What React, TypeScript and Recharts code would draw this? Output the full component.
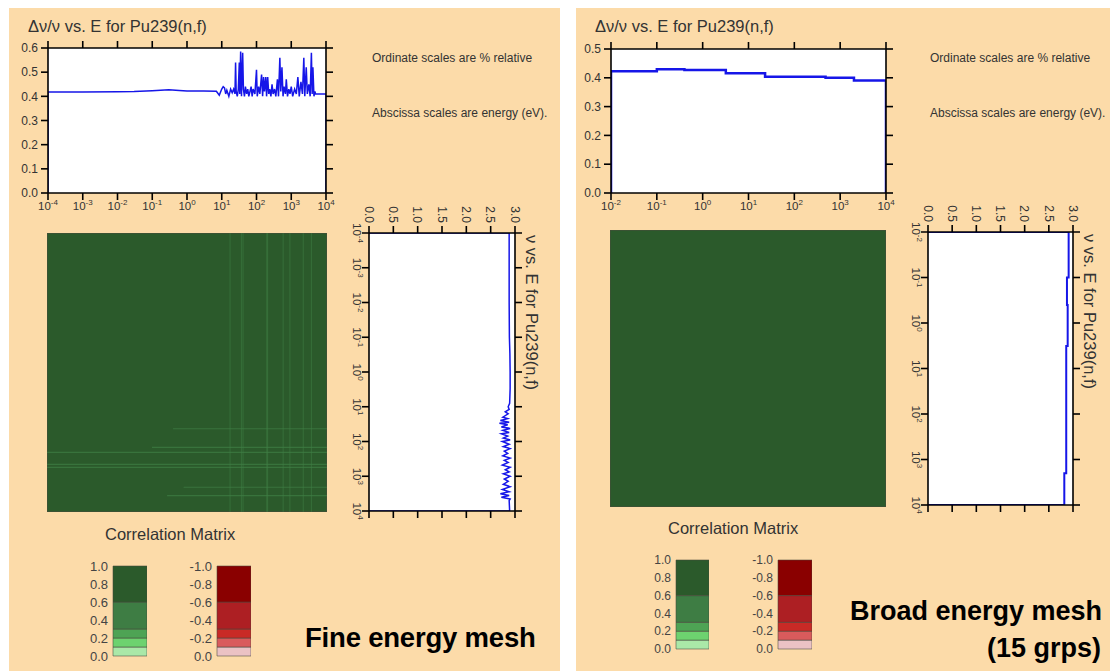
import React from "react";
import {
  LineChart,
  Line,
  XAxis,
  YAxis,
  CartesianGrid,
  ComposedChart,
  ReferenceArea,
  ReferenceLine,
  BarChart,
  Bar,
} from "recharts";

const FONT = "'Liberation Sans', Arial, Helvetica, sans-serif";
const PEACH = "#fcdba9";
const BLUE = "#1616e8";
const INK = "#333";

// --- fine mesh: relative uncertainty of nu (%) vs energy (eV)
const FINE_DNU_E = [
  1e-4, 1e-3, 1e-2, 0.03, 0.1, 0.3, 0.6, 1, 3, 7, 8.5, 10, 11, 12, 13, 14, 16, 18, 20, 22, 24, 25, 26, 28, 30,
  32, 33, 35, 37, 40, 42, 45, 48, 52, 56, 60, 65, 70, 75, 80, 90, 100, 105, 115, 125, 140, 150, 160, 170, 185,
  195, 210, 225, 240, 260, 280, 300, 330, 360, 400, 430, 470, 500, 540, 580, 620, 680, 720, 780, 850, 920, 1000,
  1100, 1250, 1400, 1550, 1700, 1900, 2100, 2300, 2450, 2700, 2900, 3200, 3500, 3800, 4000, 4200, 4500, 4800,
  5000, 1e4,
];
const FINE_DNU = [
  0.418, 0.418, 0.419, 0.42, 0.423, 0.427, 0.424, 0.422, 0.422, 0.421, 0.405, 0.43, 0.44, 0.435, 0.41, 0.425,
  0.4, 0.43, 0.415, 0.43, 0.41, 0.54, 0.42, 0.4, 0.43, 0.54, 0.41, 0.585, 0.4, 0.58, 0.43, 0.4, 0.44, 0.41, 0.43,
  0.4, 0.42, 0.44, 0.4, 0.43, 0.41, 0.51, 0.4, 0.44, 0.41, 0.49, 0.4, 0.48, 0.42, 0.48, 0.4, 0.48, 0.41, 0.43,
  0.4, 0.45, 0.41, 0.43, 0.4, 0.47, 0.4, 0.56, 0.42, 0.52, 0.4, 0.44, 0.41, 0.47, 0.4, 0.43, 0.41, 0.44, 0.4,
  0.43, 0.41, 0.48, 0.4, 0.46, 0.41, 0.56, 0.4, 0.52, 0.41, 0.45, 0.4, 0.58, 0.41, 0.52, 0.4, 0.42, 0.41, 0.41,
];

// --- fine mesh: nu vs energy
const FINE_NU_E = [
  1e-4, 1e-3, 1e-2, 0.1, 0.3, 1, 3, 8, 10, 12, 14, 16, 20, 22, 25, 28, 30, 33, 38, 42, 48, 55, 60, 70, 80, 90,
  100, 120, 140, 160, 190, 220, 260, 300, 350, 400, 480, 550, 650, 750, 850, 1000, 1200, 1400, 1700, 2000, 2400,
  2800, 3200, 3600, 4000, 4500, 5000, 1e4,
];
const FINE_NU = [
  2.88, 2.88, 2.88, 2.885, 2.895, 2.9, 2.9, 2.89, 2.86, 2.88, 2.8, 2.86, 2.75, 2.85, 2.7, 2.88, 2.68, 2.85, 2.72,
  2.9, 2.75, 2.88, 2.72, 2.85, 2.76, 2.9, 2.74, 2.88, 2.76, 2.9, 2.78, 2.85, 2.75, 2.9, 2.78, 2.86, 2.74, 2.9,
  2.8, 2.88, 2.76, 2.9, 2.78, 2.86, 2.76, 2.9, 2.74, 2.88, 2.7, 2.88, 2.72, 2.9, 2.88, 2.89,
];

// --- broad mesh (group boundaries and group values)
const BROAD_BOUNDS = [1e-2, 0.1, 0.4, 3.2, 23, 480, 2000, 1e4];
const BROAD_DNU = [0.423, 0.43, 0.427, 0.416, 0.404, 0.4, 0.391];
const BROAD_NU = [2.91, 2.875, 2.89, 2.86, 2.86, 2.86, 2.82];

// --- ticks
const FINE_E_TICKS = [1e-4, 1e-3, 1e-2, 1e-1, 1, 10, 100, 1e3, 1e4];
const BROAD_E_TICKS = [1e-2, 1e-1, 1, 10, 100, 1e3, 1e4];
const FINE_DNU_TICKS = [0, 0.1, 0.2, 0.3, 0.4, 0.5, 0.6];
const BROAD_DNU_TICKS = [0, 0.1, 0.2, 0.3, 0.4, 0.5];
const NU_TICKS = [0, 0.5, 1, 1.5, 2, 2.5, 3];
const LEGEND_TICKS = [0, 0.2, 0.4, 0.6, 0.8, 1];

// --- correlation bins and colours (bottom to top)
const CORR_EDGES = [0, 0.1, 0.2, 0.3, 0.6, 1.0];
const GREEN_BINS = ["#aae8a8", "#6dd26f", "#4ea354", "#3e7d44", "#2b5a2b"];
const RED_BINS = ["#ebc2c4", "#d95b5c", "#c92a26", "#ad1f23", "#8a0000"];

// --- fine-mesh correlation matrix: weaker-correlation stripes
const MATRIX_FINE_CORR = 0.95;
const MATRIX_V_E = [17, 36, 40, 190, 200, 560, 870, 2100, 3600];
const MATRIX_V_CORR = [0.5, 0.45, 0.45, 0.5, 0.45, 0.5, 0.55, 0.45, 0.45];
const MATRIX_H_E = [41, 140, 195, 430, 525, 1950, 3400];
const MATRIX_H_FROM = [0.4, 0.1, 1e-4, 1e-4, 1e-4, 0.8, 0.27];
const MATRIX_H_CORR = [0.35, 0.5, 0.45, 0.55, 0.45, 0.45, 0.4];
const MATRIX_BROAD_CORR = 0.97;

const corrColor = (c: number, bins: string[]) => {
  for (let i = 1; i < CORR_EDGES.length; i++) if (c <= CORR_EDGES[i]) return bins[i - 1];
  return bins[bins.length - 1];
};

const withEnds = (es: number[], vs: number[]) => [
  { e: es[0], v: 0 },
  ...es.map((e, i) => ({ e, v: vs[i] })),
  { e: es[es.length - 1], v: 0 },
];

const groupSteps = (bounds: number[], vals: number[]) => [
  { e: bounds[0], v: 0 },
  ...vals.map((v, i) => ({ e: bounds[i], v })),
  { e: bounds[bounds.length - 1], v: vals[vals.length - 1] },
  { e: bounds[bounds.length - 1], v: 0 },
];

const AXIS_LINE = { stroke: "#000", strokeWidth: 1.6 };

function PowTick(props: any) {
  const { x, y, payload } = props;
  const exp = Math.round(Math.log10(payload.value));
  return (
    <text x={x} y={y} dy={8.5} textAnchor="middle" fontSize={11.5} fill={INK} fontFamily={FONT}>
      10
      <tspan dy={-5} fontSize={8}>
        {exp}
      </tspan>
    </text>
  );
}

const NoTick = () => <g />;

interface ProfileProps {
  width: number;
  height: number;
  margin: { top: number; right: number; bottom: number; left: number };
  rows: { e: number; v: number }[];
  xTicks: number[];
  yTicks: number[];
  lineType: "linear" | "stepAfter";
  strokeWidth: number;
}

function ProfileChart({ width, height, margin, rows, xTicks, yTicks, lineType, strokeWidth }: ProfileProps) {
  const xDomain = [xTicks[0], xTicks[xTicks.length - 1]];
  const yDomain = [yTicks[0], yTicks[yTicks.length - 1]];
  return (
    <LineChart width={width} height={height} data={rows} margin={margin}>
      <CartesianGrid xAxisId="b" yAxisId="l" horizontal={false} vertical={false} fill="#fff" fillOpacity={1} />
      <XAxis
        xAxisId="b"
        dataKey="e"
        type="number"
        scale="log"
        domain={xDomain}
        ticks={xTicks}
        allowDataOverflow
        interval={0}
        height={25}
        tickSize={7}
        tickMargin={1}
        tick={<PowTick />}
        axisLine={AXIS_LINE}
        tickLine={AXIS_LINE}
      />
      <XAxis
        xAxisId="t"
        orientation="top"
        dataKey="e"
        type="number"
        scale="log"
        domain={xDomain}
        ticks={xTicks}
        allowDataOverflow
        interval={0}
        height={10}
        tickSize={7}
        tick={NoTick}
        axisLine={AXIS_LINE}
        tickLine={AXIS_LINE}
      />
      <YAxis
        yAxisId="l"
        type="number"
        domain={yDomain}
        ticks={yTicks}
        allowDataOverflow
        interval={0}
        width={30}
        tickSize={7}
        tickMargin={3}
        tickFormatter={(v: number) => v.toFixed(1)}
        tick={{ fontSize: 12, fill: INK, fontFamily: FONT }}
        axisLine={AXIS_LINE}
        tickLine={AXIS_LINE}
      />
      <YAxis
        yAxisId="r"
        orientation="right"
        type="number"
        domain={yDomain}
        ticks={yTicks}
        allowDataOverflow
        interval={0}
        width={10}
        tickSize={7}
        tick={NoTick}
        axisLine={AXIS_LINE}
        tickLine={AXIS_LINE}
      />
      <Line
        xAxisId="b"
        yAxisId="l"
        dataKey="v"
        type={lineType}
        stroke={BLUE}
        strokeWidth={strokeWidth}
        dot={false}
        isAnimationActive={false}
      />
    </LineChart>
  );
}

interface MatrixProps {
  width: number;
  height: number;
  eTicks: number[];
  base: number;
  vE: number[];
  vCorr: number[];
  hE: number[];
  hFrom: number[];
  hCorr: number[];
}

function MatrixChart({ width, height, eTicks, base, vE, vCorr, hE, hFrom, hCorr }: MatrixProps) {
  const lo = eTicks[0];
  const hi = eTicks[eTicks.length - 1];
  return (
    <ComposedChart width={width} height={height} margin={{ top: 0, right: 0, bottom: 0, left: 0 }} data={[{ e: lo }]}>
      <XAxis dataKey="e" type="number" scale="log" domain={[lo, hi]} allowDataOverflow hide />
      <YAxis type="number" scale="log" domain={[lo, hi]} allowDataOverflow reversed hide />
      <ReferenceArea
        x1={lo}
        x2={hi}
        y1={lo}
        y2={hi}
        fill={corrColor(base, GREEN_BINS)}
        fillOpacity={1}
        stroke="#4b4b3c"
        strokeWidth={1}
      />
      {vE.map((e, i) => (
        <ReferenceLine
          key={`v${i}`}
          x={e}
          stroke={corrColor(vCorr[i], GREEN_BINS)}
          strokeWidth={1.2}
          strokeOpacity={0.5}
        />
      ))}
      {hE.map((e, i) => (
        <ReferenceLine
          key={`h${i}`}
          segment={[
            { x: hFrom[i], y: e },
            { x: hi, y: e },
          ]}
          stroke={corrColor(hCorr[i], GREEN_BINS)}
          strokeWidth={1.2}
          strokeOpacity={0.7}
        />
      ))}
    </ComposedChart>
  );
}

function CorrLegend({
  bins,
  negative,
  barWidth,
  barHeight,
  fontSize,
}: {
  bins: string[];
  negative: boolean;
  barWidth: number;
  barHeight: number;
  fontSize: number;
}) {
  const row: Record<string, number | string> = { name: "c" };
  bins.forEach((_, i) => {
    row[`s${i}`] = +(CORR_EDGES[i + 1] - CORR_EDGES[i]).toFixed(2);
  });
  return (
    <BarChart
      width={32 + barWidth}
      height={barHeight + 20}
      data={[row]}
      margin={{ top: 10, right: 0, bottom: 10, left: 0 }}
      barCategoryGap={0}
    >
      <XAxis dataKey="name" hide />
      <YAxis
        type="number"
        domain={[0, 1]}
        ticks={LEGEND_TICKS}
        interval={0}
        width={32}
        axisLine={false}
        tickLine={false}
        tickSize={0}
        tickMargin={5}
        tick={{ fontSize, fill: "#444", fontFamily: FONT }}
        tickFormatter={(v: number) => (negative && v !== 0 ? (-v).toFixed(1) : v.toFixed(1))}
      />
      {bins.map((c, i) => (
        <Bar
          key={i}
          dataKey={`s${i}`}
          stackId="a"
          fill={c}
          stroke="rgba(70,70,60,0.55)"
          strokeWidth={1}
          isAnimationActive={false}
        />
      ))}
    </BarChart>
  );
}

function Rotated({
  left,
  top,
  width,
  height,
  title,
  children,
}: {
  left: number;
  top: number;
  width: number;
  height: number;
  title: string;
  children: React.ReactNode;
}) {
  return (
    <div
      style={{
        position: "absolute",
        left,
        top,
        width,
        height,
        transform: "rotate(90deg)",
        transformOrigin: "0 0",
      }}
    >
      {children}
      <svg width={width} height={height} style={{ position: "absolute", left: 0, top: 0, pointerEvents: "none" }}>
        <text x={37} y={21} fontSize={16.5} fill={INK} fontFamily={FONT}>
          {title}
        </text>
      </svg>
    </div>
  );
}

const Abs = ({ left, top, children }: { left: number; top: number; children: React.ReactNode }) => (
  <div style={{ position: "absolute", left, top }}>{children}</div>
);

export default function App() {
  const fineDnu = withEnds(FINE_DNU_E, FINE_DNU);
  const fineNu = withEnds(FINE_NU_E, FINE_NU);
  const broadDnu = groupSteps(BROAD_BOUNDS, BROAD_DNU);
  const broadNu = groupSteps(BROAD_BOUNDS, BROAD_NU);

  return (
    <div
      style={{
        position: "absolute",
        left: 0,
        top: 0,
        width: 1110,
        height: 671,
        background: "#fff",
        overflow: "hidden",
        fontFamily: FONT,
      }}
    >
      <div style={{ position: "absolute", left: 9, top: 8, width: 551, height: 663, background: PEACH }} />
      <div style={{ position: "absolute", left: 576, top: 8, width: 534, height: 663, background: PEACH }} />

      {/* fine mesh */}
      <Abs left={0} top={0}>
        <ProfileChart
          width={360}
          height={230}
          margin={{ top: 38, right: 24, bottom: 12, left: 18 }}
          rows={fineDnu}
          xTicks={FINE_E_TICKS}
          yTicks={FINE_DNU_TICKS}
          lineType="linear"
          strokeWidth={1.5}
        />
      </Abs>
      <Abs left={47} top={233}>
        <MatrixChart
          width={280}
          height={279}
          eTicks={FINE_E_TICKS}
          base={MATRIX_FINE_CORR}
          vE={MATRIX_V_E}
          vCorr={MATRIX_V_CORR}
          hE={MATRIX_H_E}
          hFrom={MATRIX_H_FROM}
          hCorr={MATRIX_H_CORR}
        />
      </Abs>
      <Rotated left={547} top={198} width={333} height={208} title="ν vs. E for Pu239(n,f)">
        <ProfileChart
          width={333}
          height={208}
          margin={{ top: 22, right: 10, bottom: 5, left: 5 }}
          rows={fineNu}
          xTicks={FINE_E_TICKS}
          yTicks={NU_TICKS}
          lineType="linear"
          strokeWidth={1.5}
        />
      </Rotated>
      <Abs left={81} top={556}>
        <CorrLegend bins={GREEN_BINS} negative={false} barWidth={34} barHeight={90} fontSize={13} />
      </Abs>
      <Abs left={185} top={556}>
        <CorrLegend bins={RED_BINS} negative barWidth={34} barHeight={90} fontSize={13} />
      </Abs>

      {/* broad mesh */}
      <Abs left={570} top={0}>
        <ProfileChart
          width={360}
          height={230}
          margin={{ top: 39, right: 34, bottom: 12, left: 11 }}
          rows={broadDnu}
          xTicks={BROAD_E_TICKS}
          yTicks={BROAD_DNU_TICKS}
          lineType="stepAfter"
          strokeWidth={2.5}
        />
      </Abs>
      <Abs left={610} top={230}>
        <MatrixChart
          width={276}
          height={277}
          eTicks={BROAD_E_TICKS}
          base={MATRIX_BROAD_CORR}
          vE={[]}
          vCorr={[]}
          hE={[]}
          hFrom={[]}
          hCorr={[]}
        />
      </Abs>
      <Rotated left={1105} top={197} width={328} height={207} title="ν vs. E for Pu239(n,f)">
        <ProfileChart
          width={328}
          height={207}
          margin={{ top: 22, right: 10, bottom: 5, left: 5 }}
          rows={broadNu}
          xTicks={BROAD_E_TICKS}
          yTicks={NU_TICKS}
          lineType="stepAfter"
          strokeWidth={2}
        />
      </Rotated>
      <Abs left={644} top={550}>
        <CorrLegend bins={GREEN_BINS} negative={false} barWidth={33} barHeight={89} fontSize={12} />
      </Abs>
      <Abs left={746} top={550}>
        <CorrLegend bins={RED_BINS} negative barWidth={34} barHeight={89} fontSize={12} />
      </Abs>

      <svg
        width={1110}
        height={671}
        style={{ position: "absolute", left: 0, top: 0, pointerEvents: "none" }}
        fontFamily={FONT}
      >
        <text x={28} y={32} fontSize={16.5} fill={INK}>
          Δν/ν vs. E for Pu239(n,f)
        </text>
        <text x={595} y={32} fontSize={16.5} fill={INK}>
          Δν/ν vs. E for Pu239(n,f)
        </text>
        <text x={372} y={62} fontSize={12} fill={INK}>
          Ordinate scales are % relative
        </text>
        <text x={372} y={117} fontSize={12} fill={INK}>
          Abscissa scales are energy (eV).
        </text>
        <text x={930} y={62} fontSize={12} fill={INK}>
          Ordinate scales are % relative
        </text>
        <text x={930} y={117} fontSize={12} fill={INK}>
          Abscissa scales are energy (eV).
        </text>
        <text x={105} y={540} fontSize={16.5} fill={INK}>
          Correlation Matrix
        </text>
        <text x={668} y={534} fontSize={16.5} fill={INK}>
          Correlation Matrix
        </text>
        <text x={305} y={647} fontSize={27.5} fontWeight="bold" fill="#000" letterSpacing={-0.2}>
          Fine energy mesh
        </text>
        <text x={1102} y={620} fontSize={27} fontWeight="bold" fill="#000" textAnchor="end">
          Broad energy mesh
        </text>
        <text x={1101} y={657} fontSize={27} fontWeight="bold" fill="#000" textAnchor="end">
          (15 grps)
        </text>
      </svg>
    </div>
  );
}
